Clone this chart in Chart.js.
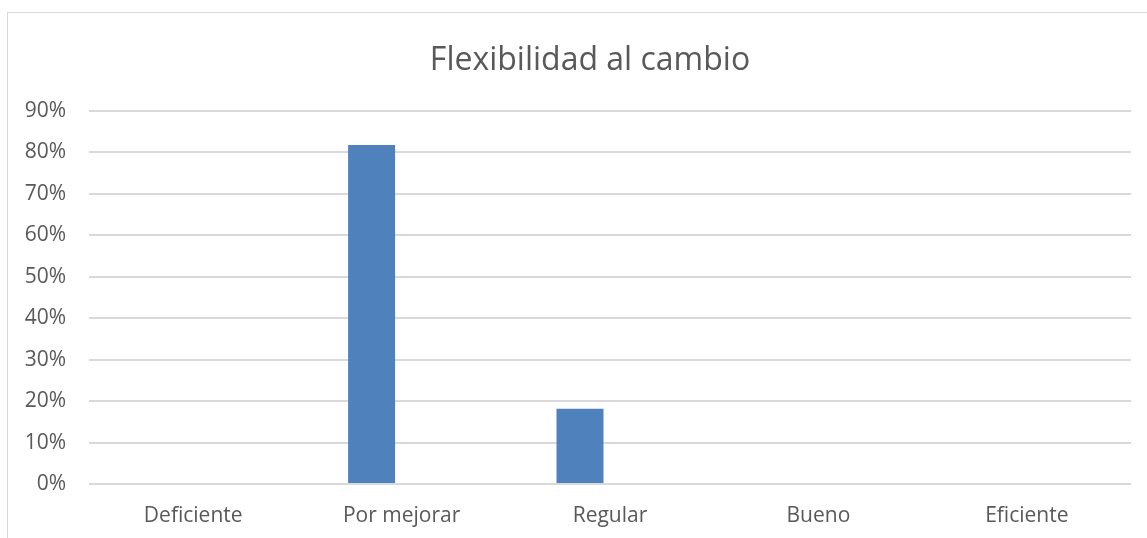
<!DOCTYPE html>
<html lang="es">
<head>
<meta charset="utf-8">
<title>Flexibilidad al cambio</title>
<script src="https://cdn.jsdelivr.net/npm/chart.js@4/dist/chart.umd.min.js"></script>
<style>
  html, body { margin: 0; padding: 0; background: #ffffff; overflow: hidden; }
  #wrap { position: relative; width: 1147px; height: 538px; overflow: hidden; }
  #marco {
    position: absolute; left: 7px; top: 12px; width: 1200px; height: 600px;
    border: 1.5px solid #d9d9d9; box-sizing: border-box; pointer-events: none;
  }
  canvas { position: absolute; left: 0; top: 0; }
</style>
</head>
<body>
<div id="wrap">
  <div id="marco"></div>
  <canvas id="grafico" width="1180" height="538"></canvas>
</div>
<script>
// Niveles evaluados
const categorias = ["Deficiente", "Por mejorar", "Regular", "Bueno", "Eficiente"];
// Proporción de respuestas por nivel
const porcentajes = [0, 0.8182, 0.1818, 0, 0];
// Segunda serie del gráfico agrupado (sin valores)
const serieVacia = [null, null, null, null, null];
// Marcas del eje vertical
const marcasY = [0, 0.1, 0.2, 0.3, 0.4, 0.5, 0.6, 0.7, 0.8, 0.9];

const gris = "#595959";
const fuente = "'Open Sans', 'Noto Sans', sans-serif";

new Chart(document.getElementById("grafico"), {
  type: "bar",
  data: {
    labels: categorias,
    datasets: [
      {
        label: "Porcentaje",
        data: porcentajes,
        backgroundColor: "#4f81bd",
        borderWidth: 0,
        categoryPercentage: 0.576,
        barPercentage: 0.783
      },
      {
        label: "Serie 2",
        data: serieVacia,
        backgroundColor: "#c0504d",
        borderWidth: 0,
        categoryPercentage: 0.576,
        barPercentage: 0.783
      }
    ]
  },
  options: {
    responsive: false,
    animation: false,
    layout: { padding: { left: 0, right: 0, top: 0, bottom: 10 } },
    plugins: {
      legend: { display: false },
      tooltip: { enabled: false },
      title: {
        display: true,
        text: "Flexibilidad al cambio",
        color: gris,
        font: { family: fuente, size: 32, weight: "normal", lineHeight: 1.2 },
        padding: { top: 42, bottom: 30.6 }
      }
    },
    scales: {
      x: {
        grid: { display: false, drawTicks: false },
        border: { display: false },
        afterFit: (eje) => { eje.height = 44; },
        ticks: {
          color: gris,
          font: { family: fuente, size: 21 },
          padding: 19,
          maxRotation: 0
        }
      },
      y: {
        min: 0,
        max: 0.9,
        afterBuildTicks: (eje) => { eje.ticks = marcasY.map(v => ({ value: v })); },
        afterFit: (eje) => { eje.width = 89; },
        grid: { color: "#d9d9d9", lineWidth: 2, drawTicks: false },
        border: { display: false },
        ticks: {
          color: gris,
          font: { family: fuente, size: 21 },
          padding: 23,
          callback: (v) => Math.round(v * 100) + "%"
        }
      },
      // margen derecho del área de trazado (sin marcas)
      margenDerecho: {
        type: "linear",
        position: "right",
        display: true,
        afterFit: (eje) => { eje.width = 49; },
        grid: { display: false, drawTicks: false },
        border: { display: false },
        ticks: { display: false }
      }
    }
  }
});
</script>
</body>
</html>
